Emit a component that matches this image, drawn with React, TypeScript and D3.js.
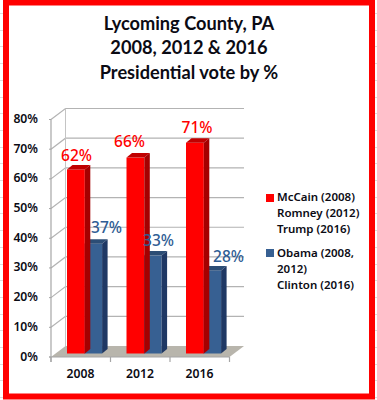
import React from "react";
import * as d3 from "d3";

const years = ["2008", "2012", "2016"];
const redValues = [62, 66, 71];
const blueValues = [37, 33, 28];
const axisTicks = [0, 10, 20, 30, 40, 50, 60, 70, 80];
const titleLines = ["Lycoming County, PA", "2008, 2012 & 2016", "Presidential vote by %"];
const redLegend = ["McCain (2008)", "Romney (2012)", "Trump (2016)"];
const blueLegend = ["Obama (2008,", "2012)", "Clinton (2016)"];

const RED = "#ff0000", RED_TOP = "#c00000", RED_SIDE = "#a50000";
const BLUE = "#376092", BLUE_TOP = "#2c4d75", BLUE_SIDE = "#1f3864";
const TEXT = "#0b0b14";
const labelFont = "'Noto Sans', sans-serif";

const y = d3.scaleLinear().domain([0, 80]).range([357, 119.5]);
const x = d3.scaleBand<string>().domain(years).range([51, 229.5]);
const dx = 14.5, dy = -11;       // wall depth
const barDx = 5.5, barDy = -4.5; // bar depth
const barShiftY = -3.5, barShiftX = 16;
const barW = 17.8;
// hand-placed data label offsets in the source chart
const redLabelDx = [25.5, 19, 27], redLabelDy = [-12, -14, -13];
const blueLabelDx = [55.5, 48, 58.5], blueLabelDy = [-14, -13, -12];
// spreadsheet cell lines that show outside the frame
const sheetRows = d3.range(13, 400, 16.7);

function Bar({ left, value, front, top, side }: { left: number; value: number; front: string; top: string; side: string }) {
  const yTop = y(value) + barShiftY;
  const yBot = y(0) + barShiftY;
  const r = left + barW;
  return (
    <g>
      <rect x={left} y={yTop} width={barW} height={yBot - yTop} fill={front} />
      <path d={`M${left},${yTop}L${left + barDx},${yTop + barDy}L${r + barDx},${yTop + barDy}L${r},${yTop}Z`} fill={top} />
      <path d={`M${r},${yTop}L${r + barDx},${yTop + barDy}L${r + barDx},${yBot + barDy}L${r},${yBot}Z`} fill={side} />
    </g>
  );
}

export default function App() {
  const x0 = 51, x1 = 229.5;
  return (
    <svg width={377} height={400} style={{ position: "absolute", left: 0, top: 0, background: "#fff" }}>
      {sheetRows.map(r => (
        <g key={r} stroke="#dcdcdc">
          <path d={`M0,${Math.round(r) + 0.5}H3`} />
          <path d={`M375,${Math.round(r) + 0.5}H377`} />
        </g>
      ))}
      <rect x={6} y={2.5} width={366} height={394} fill="#fff" stroke={RED} strokeWidth={6} />
      <g textAnchor="middle" fontFamily="Lato, sans-serif" fontWeight={700} fontSize={18.2} fill={TEXT}>
        {titleLines.map((t, i) => <text key={t} x={189} y={30 + i * 24.3}>{t}</text>)}
      </g>

      <path d={`M${x0},${y(0)}L${x0 + dx},${y(0) + dy}L${x1 + dx},${y(0) + dy}L${x1},${y(0)}Z`} fill="#b8b5ac" />
      {axisTicks.filter(t => t > 0).map(t => (
        <path key={t} d={`M${x0},${y(t)}L${x0 + dx},${y(t) + dy}L${x1 + dx},${y(t) + dy}`} fill="none" stroke="#b3b3b3" strokeWidth={1.2} />
      ))}
      <path d={`M${x0 + dx},${y(0) + dy}V${y(80) + dy}`} stroke="#c4c4c4" fill="none" />
      <path d={`M${x0},${y(80)}V${y(0) + 5}`} stroke="#a6a6a6" strokeWidth={1.2} fill="none" />
      <path d={`M${x0 - 2},${y(0)}H${x1}`} stroke="#a6a6a6" strokeWidth={1.2} fill="none" />
      {axisTicks.map(t => <path key={t} d={`M${x0 - 2},${y(t)}H${x0}`} stroke="#a6a6a6" />)}
      {[...years.map(c => x(c)!), x1].map(p => <path key={p} d={`M${p},${y(0)}V${y(0) + 5}`} stroke="#a6a6a6" strokeWidth={1.2} />)}

      <g fontFamily={labelFont} fontWeight={600} fontSize={12.2} fill={TEXT}>
        {axisTicks.map(t => <text key={t} x={38} y={y(t) + 3.5} textAnchor="end">{t}%</text>)}
        {years.map(c => <text key={c} x={x(c)! + 29.5} y={378} textAnchor="middle">{c}</text>)}
      </g>

      {years.map((c, i) => {
        const l = x(c)! + barShiftX;
        return (
          <g key={c}>
            <Bar left={l + barW - 0.5} value={blueValues[i]} front={BLUE} top={BLUE_TOP} side={BLUE_SIDE} />
            <Bar left={l} value={redValues[i]} front={RED} top={RED_TOP} side={RED_SIDE} />
          </g>
        );
      })}

      <g fontFamily={labelFont} fontWeight={500} fontSize={15.5}>
        {years.map((c, i) => (
          <g key={c}>
            <text x={x(c)! + redLabelDx[i]} y={y(redValues[i]) + redLabelDy[i]} textAnchor="middle" fill={RED}>{redValues[i]}%</text>
            <text x={x(c)! + blueLabelDx[i]} y={y(blueValues[i]) + blueLabelDy[i]} textAnchor="middle" fill="#2f5d94">{blueValues[i]}%</text>
          </g>
        ))}
      </g>

      <rect x={266} y={194} width={8} height={8} fill={RED} />
      <rect x={266} y={249} width={8} height={8} fill={BLUE} />
      <g fontFamily={labelFont} fontWeight={600} fontSize={11.5} fill={TEXT}>
        {redLegend.map((t, i) => <text key={t} x={277} y={200.8 + i * 16.2}>{t}</text>)}
        {blueLegend.map((t, i) => <text key={t} x={277} y={256.8 + i * 16.2}>{t}</text>)}
      </g>
    </svg>
  );
}
